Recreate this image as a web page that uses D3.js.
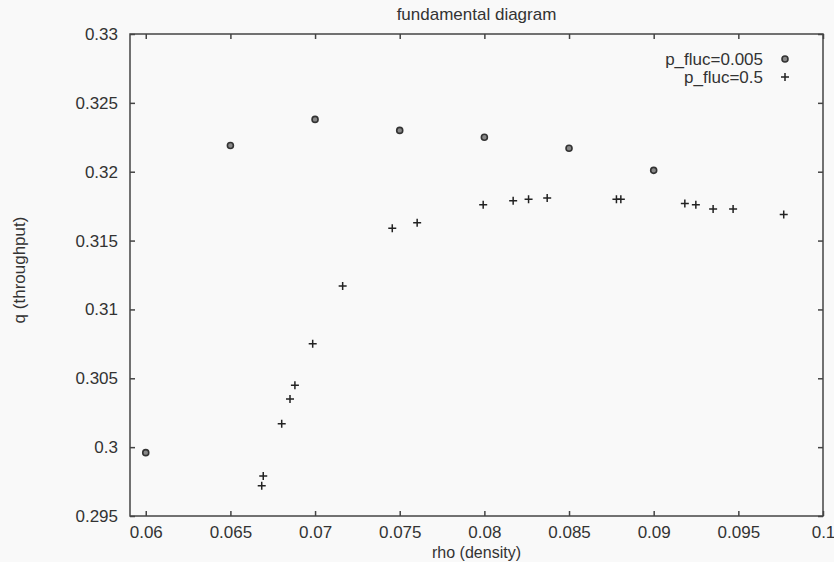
<!DOCTYPE html>
<html>
<head>
<meta charset="utf-8">
<script src="https://cdn.jsdelivr.net/npm/d3@7"></script>
<style>
  body { margin: 0; background: #f9f9f9; }
  text { font-family: "Liberation Sans", Arial, sans-serif; fill: #333; }
</style>
</head>
<body>
<div id="chart"></div>
<script>
// p_fluc=0.005
const lowRho = [0.06, 0.065, 0.07, 0.075, 0.08, 0.085, 0.09];
const lowQ   = [0.2996, 0.3219, 0.3238, 0.3230, 0.3225, 0.3217, 0.3201];

// p_fluc=0.5
const highRho = [0.06685, 0.06694, 0.06803, 0.06852, 0.06881, 0.06986, 0.07163, 0.07456, 0.07603,
                 0.07993, 0.0817, 0.08261, 0.08371, 0.0878, 0.08806, 0.09184, 0.09249, 0.09351, 0.09469, 0.09768];
const highQ   = [0.2972, 0.2979, 0.3017, 0.3035, 0.3045, 0.3075, 0.3117, 0.3159, 0.3163,
                 0.3176, 0.3179, 0.3180, 0.3181, 0.3180, 0.3180, 0.3177, 0.3176, 0.3173, 0.3173, 0.3169];

const xTicks = [0.06, 0.065, 0.07, 0.075, 0.08, 0.085, 0.09, 0.095, 0.1];
const yTicks = [0.295, 0.3, 0.305, 0.31, 0.315, 0.32, 0.325, 0.33];
const seriesNames = ['p_fluc=0.005', 'p_fluc=0.5'];

let width = 834, height = 562;
let margin = { top: 34, right: 11, bottom: 46, left: 130 };

let x = d3.scaleLinear()
    .domain([0.05907, 0.1])
    .range([margin.left, width - margin.right]);

let y = d3.scaleLinear()
    .domain([0.295, 0.33])
    .range([height - margin.bottom, margin.top]);

let svg = d3.select('#chart').append('svg')
    .attr('width', width)
    .attr('height', height);

let fmt = d => String(+d.toFixed(3));

// axes, gnuplot style: inward ticks mirrored on all sides
svg.append('g')
    .attr('transform', `translate(0,${y.range()[0]})`)
    .call(d3.axisBottom(x).tickValues(xTicks).tickFormat(fmt).tickSizeInner(-5).tickSizeOuter(0).tickPadding(10));
svg.append('g')
    .attr('transform', `translate(0,${y.range()[1]})`)
    .call(d3.axisTop(x).tickValues(xTicks).tickFormat('').tickSizeInner(-5).tickSizeOuter(0));
svg.append('g')
    .attr('transform', `translate(${x.range()[0]},0)`)
    .call(d3.axisLeft(y).tickValues(yTicks).tickFormat(fmt).tickSizeInner(-5).tickSizeOuter(0).tickPadding(12));
svg.append('g')
    .attr('transform', `translate(${x.range()[1]},0)`)
    .call(d3.axisRight(y).tickValues(yTicks).tickFormat('').tickSizeInner(-5).tickSizeOuter(0));

svg.selectAll('.domain').remove();
svg.selectAll('.tick line').attr('stroke', '#444').attr('stroke-width', 1.5);
svg.selectAll('.tick text').style('font-size', '17px').attr('fill', '#333');

svg.append('rect')
    .attr('x', x.range()[0])
    .attr('y', y.range()[1])
    .attr('width', x.range()[1] - x.range()[0])
    .attr('height', y.range()[0] - y.range()[1])
    .attr('fill', 'none')
    .attr('stroke', '#444')
    .attr('stroke-width', 1.5);

// titles
svg.append('text')
    .attr('x', (x.range()[0] + x.range()[1]) / 2)
    .attr('y', 20)
    .attr('text-anchor', 'middle')
    .style('font-size', '17px')
    .text('fundamental diagram');

svg.append('text')
    .attr('x', (x.range()[0] + x.range()[1]) / 2)
    .attr('y', 558)
    .attr('text-anchor', 'middle')
    .style('font-size', '16px')
    .text('rho (density)');

svg.append('text')
    .attr('transform', 'translate(25,270) rotate(-90)')
    .attr('text-anchor', 'middle')
    .style('font-size', '17px')
    .text('q (throughput)');

// markers
let circleMark = (g, cx, cy) => g.append('circle')
    .attr('cx', cx).attr('cy', cy).attr('r', 3)
    .attr('fill', '#888').attr('stroke', '#333').attr('stroke-width', 1.6);

let plusMark = (g, cx, cy) => g.append('path')
    .attr('d', `M${cx - 4},${cy}H${cx + 4}M${cx},${cy - 4}V${cy + 4}`)
    .attr('stroke', '#222').attr('stroke-width', 1.5).attr('fill', 'none');

let lowG = svg.append('g');
lowRho.forEach((r, i) => circleMark(lowG, x(r), y(lowQ[i])));

let highG = svg.append('g');
highRho.forEach((r, i) => plusMark(highG, x(r), y(highQ[i])));

// legend
let legend = svg.append('g');
[circleMark, plusMark].forEach((mark, i) => {
    let ly = 59 + i * 18;
    legend.append('text')
        .attr('x', 763)
        .attr('y', ly + 6)
        .attr('text-anchor', 'end')
        .style('font-size', '17px')
        .text(seriesNames[i]);
    mark(legend, 785, ly);
});
</script>
</body>
</html>
